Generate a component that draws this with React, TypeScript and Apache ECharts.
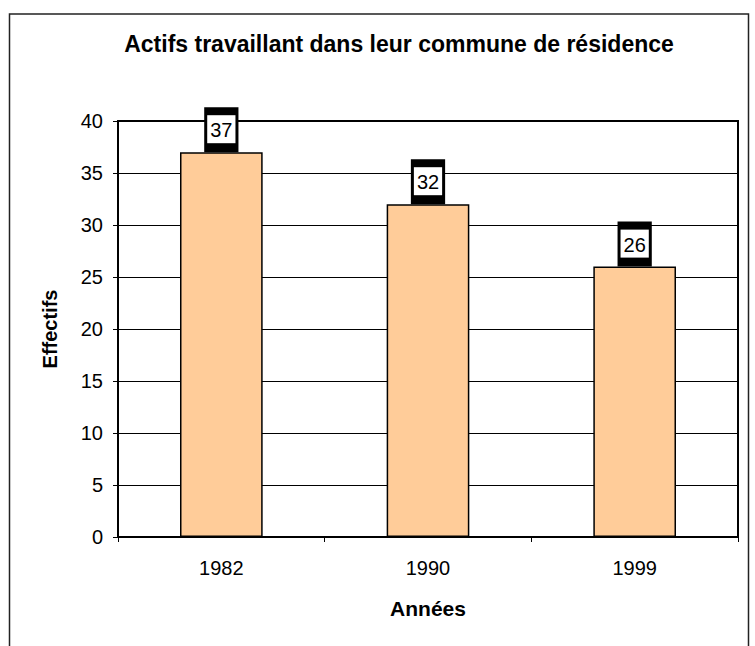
import React, { useEffect, useRef } from "react";
import * as echarts from "echarts";

const categories = ["1982", "1990", "1999"];
const values = [37, 32, 26];
const yTicks = { min: 0, max: 40, interval: 5 };
const titleText = "Actifs travaillant dans leur commune de résidence";
const xName = "Années";
const yName = "Effectifs";

const FONT = "'Liberation Sans', Arial, sans-serif";

export default function App() {
  const ref = useRef<HTMLDivElement>(null);
  useEffect(() => {
    if (!ref.current) return;
    const chart = echarts.init(ref.current, undefined, { renderer: "svg" });
    chart.setOption({
      animation: false,
      backgroundColor: "#fff",
      graphic: [
        {
          type: "rect",
          shape: { x: 9.5, y: 14, width: 739, height: 650 },
          style: { fill: "none", stroke: "#222", lineWidth: 1.5 },
          silent: true,
        },
        {
          type: "text",
          x: 399,
          y: 44,
          style: {
            text: titleText,
            font: `bold 23px ${FONT}`,
            fill: "#000",
            textAlign: "center",
            textVerticalAlign: "middle",
          },
        },
      ],
      grid: {
        left: 118,
        right: 17,
        top: 121,
        bottom: 109,
        containLabel: false,
        show: true,
        borderColor: "#000",
        borderWidth: 2,
        backgroundColor: "#fff",
      },
      xAxis: {
        type: "category",
        data: categories,
        name: xName,
        nameLocation: "middle",
        nameGap: 61,
        nameTextStyle: { fontFamily: FONT, fontSize: 21, fontWeight: "bold", color: "#000" },
        axisLine: { show: true, lineStyle: { color: "#000", width: 2 } },
        axisTick: { show: true, alignWithLabel: false, interval: 0, length: 5, lineStyle: { color: "#000" } },
        axisLabel: { fontFamily: FONT, fontSize: 20, color: "#000", margin: 21 },
      },
      yAxis: {
        type: "value",
        min: yTicks.min,
        max: yTicks.max,
        interval: yTicks.interval,
        name: yName,
        nameLocation: "middle",
        nameGap: 58,
        nameTextStyle: { fontFamily: FONT, fontSize: 20, fontWeight: "bold", color: "#000" },
        axisLine: { show: true, lineStyle: { color: "#000", width: 2 } },
        axisTick: { show: true, length: 5, lineStyle: { color: "#000" } },
        axisLabel: { fontFamily: FONT, fontSize: 20, color: "#000", margin: 15 },
        splitLine: { show: true, lineStyle: { color: "#000", width: 1 } },
      },
      series: [
        {
          type: "bar",
          data: values,
          barWidth: "40%",
          itemStyle: { color: "#FFCC99", borderColor: "#000", borderWidth: 1.5 },
          label: {
            show: true,
            position: "top",
            distance: 0,
            formatter: "{w|{c}}",
            backgroundColor: "#000",
            padding: [8, 3, 9, 3],
            rich: {
              w: {
                backgroundColor: "#fff",
                color: "#000",
                fontFamily: FONT,
                fontSize: 20,
                padding: [5, 3, 3, 3],
              },
            },
          },
        },
      ],
    });
    return () => chart.dispose();
  }, []);
  return <div ref={ref} style={{ width: 755, height: 646, position: "absolute", left: 0, top: 0 }} />;
}
